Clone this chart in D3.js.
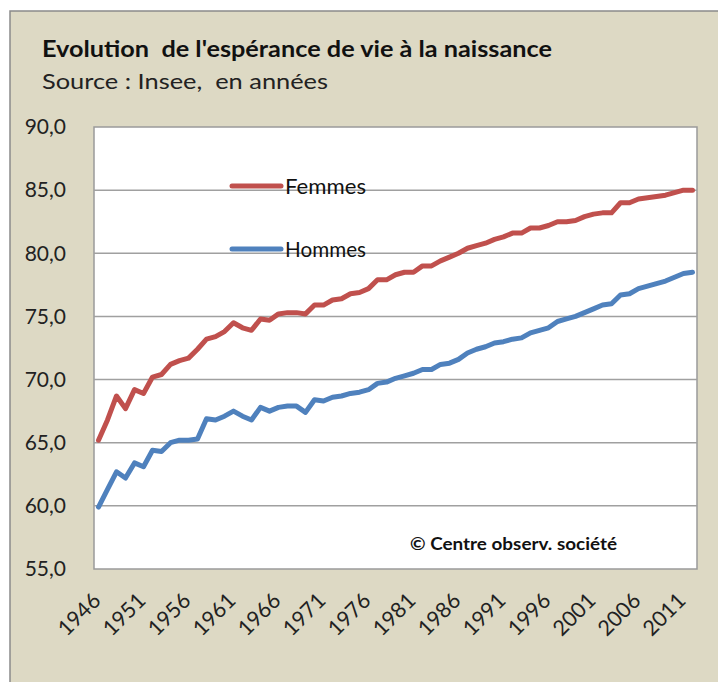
<!DOCTYPE html>
<html><head><meta charset="utf-8">
<script src="https://cdn.jsdelivr.net/npm/d3@7"></script>
<style>body{margin:0;background:#fff}svg{display:block}text{font-family:Lato,"Open Sans",sans-serif;white-space:pre}</style>
</head><body>
<script>
const years = d3.range(1946, 2013);
const femmes = [65.2,66.8,68.7,67.7,69.2,68.9,70.2,70.4,71.2,71.5,71.7,72.4,73.2,73.4,73.8,74.5,74.1,73.9,74.8,74.7,
75.2,75.3,75.3,75.2,75.9,75.9,76.3,76.4,76.8,76.9,77.2,77.9,77.9,78.3,78.5,78.5,79.0,79.0,79.4,79.7,
80.0,80.4,80.6,80.8,81.1,81.3,81.6,81.6,82.0,82.0,82.2,82.5,82.5,82.6,82.9,83.1,83.2,83.2,84.0,84.0,
84.3,84.4,84.5,84.6,84.8,85.0,85.0];
const hommes = [59.9,61.3,62.7,62.2,63.4,63.1,64.4,64.3,65.0,65.2,65.2,65.3,66.9,66.8,67.1,67.5,67.1,66.8,67.8,67.5,
67.8,67.9,67.9,67.4,68.4,68.3,68.6,68.7,68.9,69.0,69.2,69.7,69.8,70.1,70.3,70.5,70.8,70.8,71.2,71.3,
71.6,72.1,72.4,72.6,72.9,73.0,73.2,73.3,73.7,73.9,74.1,74.6,74.8,75.0,75.3,75.6,75.9,76.0,76.7,76.8,
77.2,77.4,77.6,77.8,78.1,78.4,78.5];
const yTicks = [55,60,65,70,75,80,85,90];
const xTickLabels = [1946,1951,1956,1961,1966,1971,1976,1981,1986,1991,1996,2001,2006,2011];
const seriesNames = ["Femmes","Hommes"];
const title = "Evolution  de l'espérance de vie à la naissance";
const subtitle = "Source : Insee,  en années";
const credit = "© Centre observ. société";

const W = 718, H = 682;
const svg = d3.select("body").append("svg").attr("width", W).attr("height", H);
svg.append("rect").attr("x",10).attr("y",11).attr("width",W).attr("height",H)
  .attr("fill","#ddd9c4").attr("stroke","#8a8a8a").attr("stroke-width",1.5);

const L = 94, R = 697, T = 127, B = 569;
const x = d3.scalePoint().domain(years).range([L, R]).padding(0.5);
const y = d3.scaleLinear().domain([55, 90]).range([B, T]);

svg.append("rect").attr("x",L).attr("y",T).attr("width",R-L).attr("height",B-T)
  .attr("fill","#fff").attr("stroke","#9a9a9a").attr("stroke-width",1.5);

svg.append("g").selectAll("line").data(yTicks.slice(1,-1)).join("line")
  .attr("x1",L).attr("x2",R).attr("y1",d=>y(d)).attr("y2",d=>y(d))
  .attr("stroke","#a0a0a0").attr("stroke-width",1.5);

const yAxis = d3.axisLeft(y).tickValues(yTicks).tickSize(0).tickPadding(28)
  .tickFormat(d => d3.format(".1f")(d).replace(".", ","));
const gy = svg.append("g").attr("transform",`translate(${L},0)`).call(yAxis);
gy.select(".domain").remove();
gy.selectAll("text").attr("font-size",21).attr("fill","#222");

const xAxis = d3.axisBottom(x).tickValues(xTickLabels).tickSize(0);
const gx = svg.append("g").attr("transform",`translate(0,${B})`).call(xAxis);
gx.select(".domain").remove();
gx.selectAll("text").attr("font-size",21.5).attr("fill","#222")
  .attr("text-anchor","end").attr("dy",0).attr("y",0)
  .attr("transform","translate(3,33) rotate(-45)");

const line = d3.line().x((d,i)=>x(years[i])).y(d=>y(d));
const colors = ["#c0504d","#4f81bd"];
[femmes, hommes].forEach((s,k)=>{
  svg.append("path").datum(s).attr("d",line).attr("fill","none")
    .attr("stroke",colors[k]).attr("stroke-width",5).attr("stroke-linejoin","round").attr("stroke-linecap","round");
});

// legend
const legY = [186, 249];
seriesNames.forEach((n,k)=>{
  svg.append("line").attr("x1",232).attr("x2",281).attr("y1",legY[k]).attr("y2",legY[k])
    .attr("stroke",colors[k]).attr("stroke-width",5).attr("stroke-linecap","round");
  svg.append("text").attr("x",285).attr("y",legY[k]+7.5).attr("font-size",21).attr("fill","#111")
    .attr("textLength",81).attr("lengthAdjust","spacingAndGlyphs").text(n);
});

svg.append("text").attr("x",42).attr("y",57).attr("font-size",23).attr("font-weight","bold").attr("fill","#111")
  .attr("textLength",510).attr("lengthAdjust","spacingAndGlyphs").text(title);
svg.append("text").attr("x",42).attr("y",88.5).attr("font-size",21).attr("fill","#222")
  .attr("textLength",286).attr("lengthAdjust","spacingAndGlyphs").text(subtitle);
svg.append("text").attr("x",410).attr("y",550).attr("font-size",16.5).attr("font-weight","bold").attr("fill","#111")
  .attr("textLength",207).attr("lengthAdjust","spacingAndGlyphs").text(credit);
</script>
</body></html>
